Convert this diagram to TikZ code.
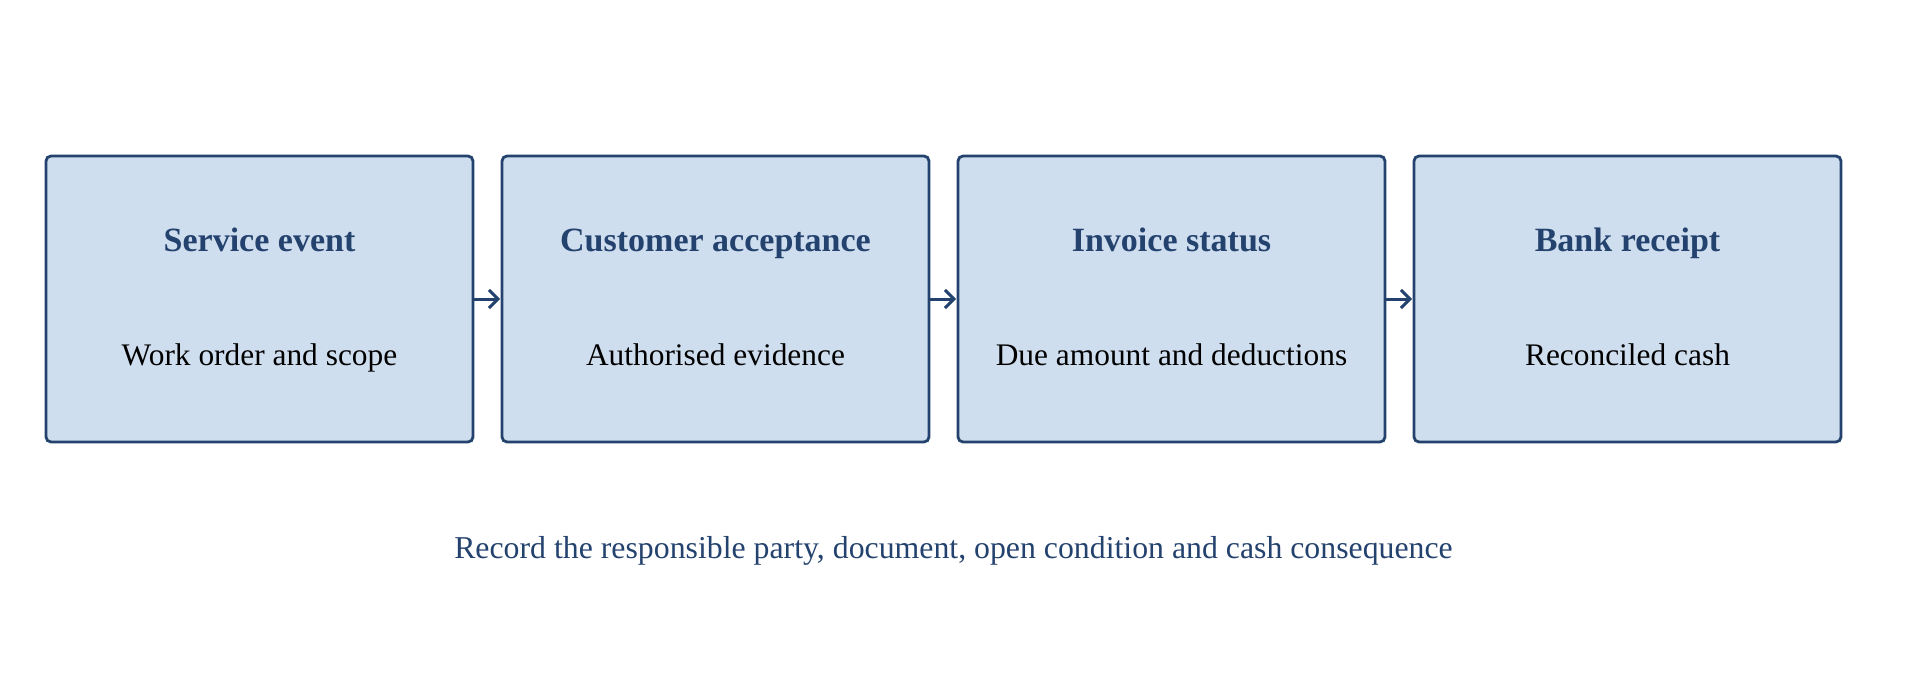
\documentclass[tikz,border=0pt]{standalone}
\usepackage{fontspec}
\setmainfont{Liberation Serif}
\usetikzlibrary{arrows.meta}
\definecolor{navy}{HTML}{24426E}
\definecolor{boxfill}{HTML}{CFDEEF}
\tikzset{
  stagebox/.style={draw=navy, fill=boxfill, line width=2.8pt, rounded corners=5pt,
    minimum width=427pt, minimum height=286pt, inner sep=0pt, outer sep=0pt, anchor=north west},
  titletext/.style={anchor=base, text=navy, font=\fontsize{34}{40}\selectfont\bfseries, inner sep=0pt},
  bodytext/.style={anchor=base, text=black, font=\fontsize{31.4}{37}\selectfont, inner sep=0pt},
  foottext/.style={anchor=base, text=navy, font=\fontsize{31.8}{38}\selectfont, inner sep=0pt},
  flow/.style={draw=navy, line width=3pt, shorten >=2pt, -{Straight Barb[length=9pt,width=18pt]}}
}
\begin{document}
\begin{tikzpicture}[x=1pt,y=-1pt]
\useasboundingbox (0,0) rectangle (1907,675);
\node[stagebox] (b1) at (46,156) {};
\node[stagebox] (b2) at (502,156) {};
\node[stagebox] (b3) at (958,156) {};
\node[stagebox] (b4) at (1414,156) {};
\node[titletext] (t1) at ([yshift=48pt]b1.center) {Service event};
\node[titletext] (t2) at ([yshift=48pt]b2.center) {Customer acceptance};
\node[titletext] (t3) at ([yshift=48pt]b3.center) {Invoice status};
\node[titletext] (t4) at ([yshift=48pt]b4.center) {Bank receipt};
\node[bodytext] (d1) at ([yshift=-66pt]b1.center) {Work order and scope};
\node[bodytext] (d2) at ([yshift=-66pt]b2.center) {Authorised evidence};
\node[bodytext] (d3) at ([yshift=-66pt]b3.center) {Due amount and deductions};
\node[bodytext] (d4) at ([yshift=-66pt]b4.center) {Reconciled cash};
\draw[flow] (b1.east) -- (b2.west);
\draw[flow] (b2.east) -- (b3.west);
\draw[flow] (b3.east) -- (b4.west);
\node[foottext] (foot) at (953.5,558) {Record the responsible party, document, open condition and cash consequence};
\end{tikzpicture}
\end{document}
